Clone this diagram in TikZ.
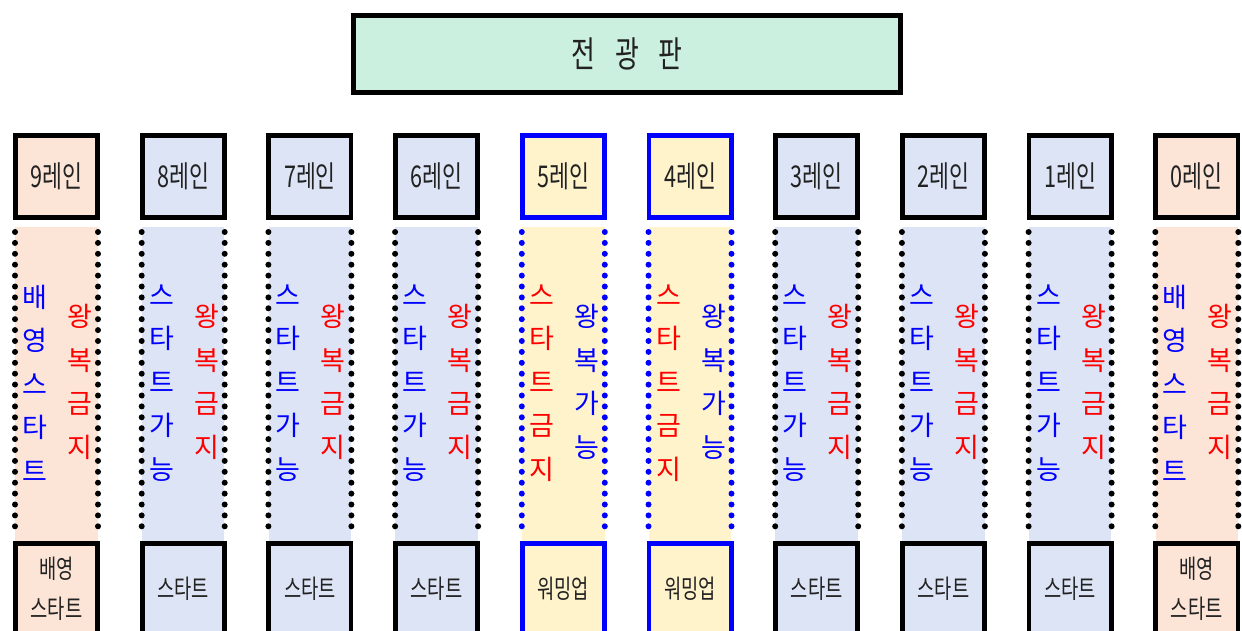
\documentclass[tikz,border=0pt]{standalone}
\usepackage{fontspec}
\setmainfont{Noto Sans CJK KR}
\newfontfamily\narrowfont[FakeStretch=0.72]{Noto Sans CJK KR}
\definecolor{peach}{HTML}{FCE4D6}
\definecolor{lav}{HTML}{DDE4F6}
\definecolor{yel}{HTML}{FFF3CC}
\definecolor{mint}{HTML}{CCF0E0}
\definecolor{pblue}{HTML}{0000FF}
\definecolor{pred}{HTML}{FF0000}
\definecolor{ink}{HTML}{222222}
\tikzset{
  boxline/.style={line width=4.8pt},
  dotline/.style={line width=6pt, line cap=round, dash pattern=on 0pt off 10.9pt},
  vtext/.style={font=\fontsize{27}{43.5}\selectfont, align=center, inner sep=0pt},
  lanelab/.style={font=\narrowfont\fontsize{30}{32}\selectfont, text=ink, inner sep=0pt},
  botlab/.style={font=\narrowfont\fontsize{26}{40}\selectfont, text=ink, align=center, inner sep=0pt},
}
\begin{document}
\begin{tikzpicture}[x=1pt,y=-1pt]
\useasboundingbox (0,0) rectangle (1242,631);
\clip (0,0) rectangle (1242,631);
\node[draw, boxline, fill=mint, minimum width=547.5pt, minimum height=77.5pt,
      font=\narrowfont\fontsize{36}{38}\selectfont, text=ink] (board) at (627,54)
      {전\hspace{20pt}광\hspace{20pt}판};
\foreach \i/\k in {0/0,1/1,2/1,3/1,4/2,5/2,6/1,7/1,8/1,9/0}{
  \pgfmathsetmacro\xl{13+126.7*\i}
  \pgfmathsetmacro\xc{\xl+43.5}
  \pgfmathtruncatemacro\lab{9-\i}
  \ifcase\k
    \def\fc{peach}\def\bc{black}\def\lc{pblue}\def\rc{pred}%
    \def\lt{배\\영\\스\\타\\트}\def\rt{왕\\복\\금\\지}\def\bt{배영\\스타트}%
  \or
    \def\fc{lav}\def\bc{black}\def\lc{pblue}\def\rc{pred}%
    \def\lt{스\\타\\트\\가\\능}\def\rt{왕\\복\\금\\지}\def\bt{스타트}%
  \or
    \def\fc{yel}\def\bc{pblue}\def\lc{pred}\def\rc{pblue}%
    \def\lt{스\\타\\트\\금\\지}\def\rt{왕\\복\\가\\능}\def\bt{워밍업}%
  \fi
  \fill[\fc] (\xl+2.25,227) rectangle (\xl+84.75,544);
  \draw[dotline, \bc] (\xl+2,232) -- (\xl+2,537);
  \draw[dotline, \bc] (\xl+85,232) -- (\xl+85,537);
  \node[draw=\bc, boxline, fill=\fc, minimum width=82.2pt, minimum height=82.2pt, lanelab]
    (t\lab) at (\xc,176.5) {\lab 레인};
  \node[vtext, text=\lc] (ml\lab) at (\xl+22,383) {\lt};
  \node[vtext, text=\rc] (mr\lab) at (\xl+67,382) {\rt};
  \draw[boxline, draw=\bc, fill=\fc] (\xl+2.4,543.4) rectangle (\xl+84.6,700);
  \node[botlab] (b\lab) at (\xc,589) {\bt};
}
\end{tikzpicture}
\end{document}
